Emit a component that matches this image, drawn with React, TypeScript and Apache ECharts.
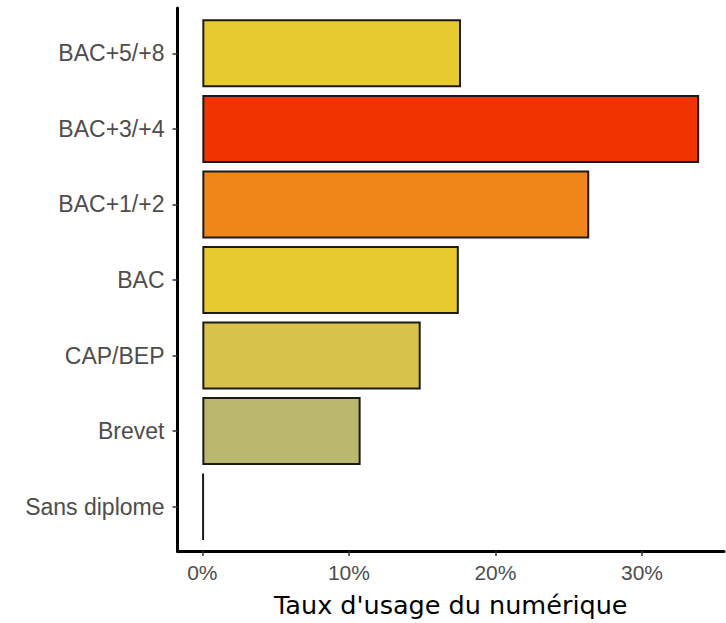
import React, { useEffect, useRef } from "react";
import * as echarts from "echarts";

const categories = ["Sans diplome", "Brevet", "CAP/BEP", "BAC", "BAC+1/+2", "BAC+3/+4", "BAC+5/+8"];
const values = [0.1, 10.8, 14.9, 17.5, 26.4, 33.9, 17.65];
const barColors = ["#8cc4d4", "#bab86f", "#d7c24b", "#e6ca2e", "#f0861a", "#f03300", "#e6ca2e"];
const xTicks = [0, 10, 20, 30];
const xTitle = "Taux d'usage du numérique";

const X_MIN = -1.695;
const X_MAX = 35.595;

export default function App() {
  const ref = useRef<HTMLDivElement>(null);
  useEffect(() => {
    if (!ref.current) return;
    const chart = echarts.init(ref.current, null, { renderer: "svg" });
    chart.setOption({
      animation: false,
      backgroundColor: "#ffffff",
      grid: [
        { left: 177.5, right: 2, top: 15.56, bottom: 78.56 },
        { left: 177.5, right: 2, top: 8, bottom: 71 },
      ],
      xAxis: [
        {
          type: "value",
          gridIndex: 0,
          min: X_MIN,
          max: X_MAX,
          show: false,
        },
        {
          type: "value",
          gridIndex: 1,
          min: X_MIN,
          max: X_MAX,
          splitLine: { show: false },
          axisLine: { show: true, onZero: false, lineStyle: { color: "#000", width: 3 } },
          axisTick: {
            show: true,
            customValues: xTicks,
            length: 5,
            lineStyle: { color: "#333", width: 1.5 },
          },
          axisLabel: {
            customValues: xTicks,
            formatter: (v: number) => `${v}%`,
            fontFamily: "Liberation Sans",
            fontSize: 21,
            color: "#4d4d4d",
            margin: 11,
          },
          name: xTitle,
          nameLocation: "middle",
          nameGap: 41,
          nameTextStyle: {
            fontFamily: "DejaVu Sans",
            fontSize: 25.5,
            color: "#000",
          },
        },
      ],
      yAxis: [
        {
          type: "category",
          gridIndex: 0,
          data: categories,
          axisLine: { show: false, onZero: false },
          axisTick: {
            show: true,
            alignWithLabel: true,
            length: 5,
            lineStyle: { color: "#333", width: 1.5 },
          },
          axisLabel: {
            fontFamily: "Liberation Sans",
            fontSize: 23,
            color: "#4d4d4d",
            margin: 13,
          },
          splitLine: { show: false },
        },
        {
          type: "value",
          gridIndex: 1,
          min: 0,
          max: 1,
          axisLine: { show: true, onZero: false, lineStyle: { color: "#000", width: 3 } },
          axisTick: { show: false },
          axisLabel: { show: false },
          splitLine: { show: false },
        },
      ],
      series: [
        {
          type: "bar",
          xAxisIndex: 0,
          yAxisIndex: 0,
          barWidth: "90%",
          data: values.map((v, i) => ({
            value: v,
            itemStyle: { color: barColors[i] },
          })),
          itemStyle: { borderColor: "#1a1a1a", borderWidth: 2 },
        },
      ],
    });
    return () => chart.dispose();
  }, []);
  return <div ref={ref} style={{ width: 726, height: 623, position: "absolute", left: 0, top: 0 }} />;
}
